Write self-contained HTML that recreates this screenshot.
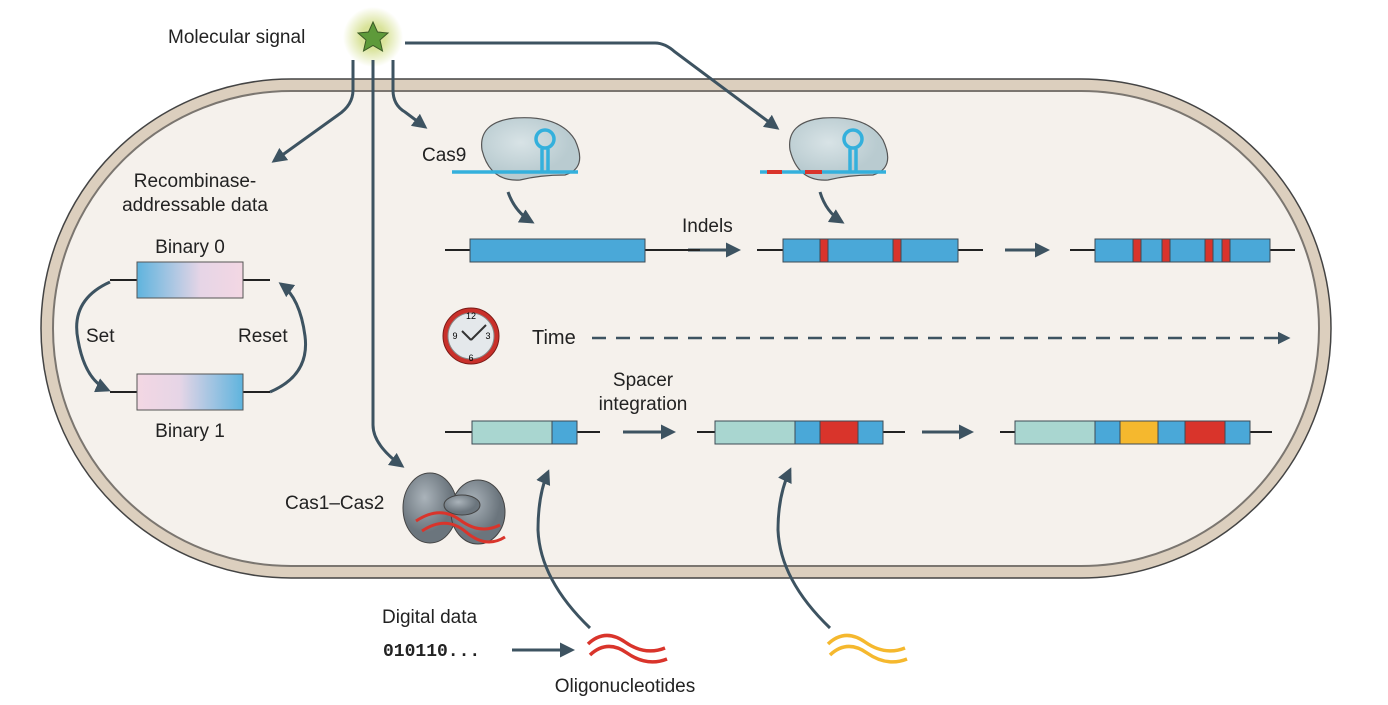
<!DOCTYPE html>
<html><head><meta charset="utf-8"><style>
html,body{margin:0;padding:0;background:#fff;}
svg{display:block;font-family:"Liberation Sans",sans-serif;}
</style></head><body>
<svg width="1388" height="705" viewBox="0 0 1388 705">
<defs>
<marker id="ah" viewBox="0 0 10 10" refX="8" refY="5" markerWidth="5" markerHeight="5" orient="auto-start-reverse"><path d="M0,0 L10,5 L0,10 z" fill="#3d5361"/></marker>
<radialGradient id="glow"><stop offset="0.4" stop-color="#d9e39a"/><stop offset="1" stop-color="#d9e39a" stop-opacity="0"/></radialGradient>
<linearGradient id="b0" x1="0" x2="1"><stop offset="0" stop-color="#5fb4de"/><stop offset="0.6" stop-color="#e6d5e6"/><stop offset="1" stop-color="#f3d7e3"/></linearGradient>
<linearGradient id="b1" x1="0" x2="1"><stop offset="0" stop-color="#f3d7e3"/><stop offset="0.4" stop-color="#e6d5e6"/><stop offset="1" stop-color="#5fb4de"/></linearGradient>
<radialGradient id="cas" cx="0.4" cy="0.4"><stop offset="0" stop-color="#d8e3e6"/><stop offset="1" stop-color="#b9cbd0"/></radialGradient>
<radialGradient id="gr" cx="0.4" cy="0.35"><stop offset="0" stop-color="#aab3ba"/><stop offset="1" stop-color="#6b757d"/></radialGradient>
</defs>
<rect x="41" y="79" width="1290" height="499" rx="250" fill="#dccfbe" stroke="#444" stroke-width="1.5"/>
<rect x="53" y="91" width="1266" height="475" rx="238" fill="#f5f1ec" stroke="#7b7670" stroke-width="2"/>
<circle cx="373" cy="37" r="30" fill="url(#glow)"/>
<polygon points="373,22 377.5,32 388,33 380,40 382.5,51 373,45.5 363.5,51 366,40 358,33 368.5,32" fill="#5e9a3a" stroke="#3b5a25" stroke-width="1"/>
<text x="168" y="43" font-size="19" fill="#222">Molecular signal</text>
<g stroke="#3d5361" stroke-width="3" fill="none">
<path d="M353,60 V90 Q353,105 338,115 L274,161" marker-end="url(#ah)"/>
<path d="M373,60 V425 Q373,445 402,466" marker-end="url(#ah)"/>
<path d="M393,60 V90 Q393,105 405,112 L425,127" marker-end="url(#ah)"/>
<path d="M405,43 H655 Q665,43 675,52 L777,128" marker-end="url(#ah)"/>
<path d="M508,192 Q515,212 532,222" marker-end="url(#ah)"/>
<path d="M820,192 Q826,212 842,222" marker-end="url(#ah)"/>
<path d="M688,250 H738" marker-end="url(#ah)"/>
<path d="M1005,250 H1047" marker-end="url(#ah)"/>
<path d="M623,432 H673" marker-end="url(#ah)"/>
<path d="M922,432 H971" marker-end="url(#ah)"/>
<path d="M592,338 H1288" stroke-dasharray="14,10" stroke-width="2.5" marker-end="url(#ah)"/>
<path d="M110,282 Q70,300 78,340 Q85,380 108,390" marker-end="url(#ah)"/>
<path d="M270,392 Q310,375 305,336 Q300,298 281,284" marker-end="url(#ah)"/>
<path d="M590,628 Q540,580 538,530 Q538,495 548,472" marker-end="url(#ah)"/>
<path d="M830,628 Q780,580 778,530 Q778,495 790,470" marker-end="url(#ah)"/>
<path d="M512,650 H572" marker-end="url(#ah)"/>
</g>
<g>
<path d="M482,150 Q478,122 515,118 Q560,115 575,140 Q588,168 565,175 Q540,175 520,180 Q490,182 482,150z" fill="url(#cas)" stroke="#555" stroke-width="1.2"/>
<path d="M452,172 H578 M542,172 V149 M548,172 V149" stroke="#34b0dc" stroke-width="3.5" fill="none"/>
<circle cx="545" cy="139" r="9" fill="none" stroke="#34b0dc" stroke-width="3.5"/>
<text x="422" y="161" font-size="19" fill="#222">Cas9</text>
<path d="M790,150 Q786,122 823,118 Q868,115 883,140 Q896,168 873,175 Q848,175 828,180 Q798,182 790,150z" fill="url(#cas)" stroke="#555" stroke-width="1.2"/>
<path d="M760,172 H886 M850,172 V149 M856,172 V149" stroke="#34b0dc" stroke-width="3.5" fill="none"/>
<circle cx="853" cy="139" r="9" fill="none" stroke="#34b0dc" stroke-width="3.5"/>
<path d="M767,172 H782 M805,172 H822" stroke="#d9342b" stroke-width="4"/>
</g>
<g stroke="#222" stroke-width="2">
<path d="M445,250 H700 M757,250 H983 M1070,250 H1295"/>
</g>
<g stroke="#3d4a55" stroke-width="1">
<rect x="470" y="239" width="175" height="23" fill="#4aa8d8"/>
<rect x="783" y="239" width="175" height="23" fill="#4aa8d8"/>
<rect x="820" y="239" width="8" height="23" fill="#d9342b"/>
<rect x="893" y="239" width="8" height="23" fill="#d9342b"/>
<rect x="1095" y="239" width="175" height="23" fill="#4aa8d8"/>
<rect x="1133" y="239" width="8" height="23" fill="#d9342b"/>
<rect x="1162" y="239" width="8" height="23" fill="#d9342b"/>
<rect x="1205" y="239" width="8" height="23" fill="#d9342b"/>
<rect x="1222" y="239" width="8" height="23" fill="#d9342b"/>
</g>
<text x="682" y="232" font-size="19" fill="#222">Indels</text>
<circle cx="471" cy="336" r="28" fill="#c9302a" stroke="#7a1a16"/>
<circle cx="471" cy="336" r="23" fill="#e4e8eb" stroke="#888"/>
<text x="471" y="319" font-size="9" text-anchor="middle">12</text>
<text x="471" y="361" font-size="9" text-anchor="middle">6</text>
<text x="455" y="339" font-size="9" text-anchor="middle">9</text>
<text x="488" y="339" font-size="9" text-anchor="middle">3</text>
<path d="M471,340 L462,331 M471,340 L486,325" stroke="#333" stroke-width="2" fill="none"/>
<text x="532" y="344" font-size="20" fill="#222">Time</text>
<g stroke="#222" stroke-width="2"><path d="M445,432 H600 M697,432 H905 M1000,432 H1272"/></g>
<g stroke="#3d4a55" stroke-width="1">
<rect x="472" y="421" width="80" height="23" fill="#a9d6d0"/>
<rect x="552" y="421" width="25" height="23" fill="#4aa8d8"/>
<rect x="715" y="421" width="80" height="23" fill="#a9d6d0"/>
<rect x="795" y="421" width="25" height="23" fill="#4aa8d8"/>
<rect x="820" y="421" width="38" height="23" fill="#d9342b"/>
<rect x="858" y="421" width="25" height="23" fill="#4aa8d8"/>
<rect x="1015" y="421" width="80" height="23" fill="#a9d6d0"/>
<rect x="1095" y="421" width="25" height="23" fill="#4aa8d8"/>
<rect x="1120" y="421" width="38" height="23" fill="#f5b82e"/>
<rect x="1158" y="421" width="27" height="23" fill="#4aa8d8"/>
<rect x="1185" y="421" width="40" height="23" fill="#d9342b"/>
<rect x="1225" y="421" width="25" height="23" fill="#4aa8d8"/>
</g>
<text x="643" y="386" font-size="19" fill="#222" text-anchor="middle">Spacer</text>
<text x="643" y="410" font-size="19" fill="#222" text-anchor="middle">integration</text>
<text x="195" y="187" font-size="19" fill="#222" text-anchor="middle">Recombinase-</text>
<text x="195" y="211" font-size="19" fill="#222" text-anchor="middle">addressable data</text>
<text x="190" y="253" font-size="19" fill="#222" text-anchor="middle">Binary 0</text>
<text x="190" y="437" font-size="19" fill="#222" text-anchor="middle">Binary 1</text>
<path d="M110,280 H137 M243,280 H270 M110,392 H137 M243,392 H270" stroke="#222" stroke-width="2"/>
<rect x="137" y="262" width="106" height="36" fill="url(#b0)" stroke="#555"/>
<rect x="137" y="374" width="106" height="36" fill="url(#b1)" stroke="#555"/>
<text x="86" y="342" font-size="19" fill="#222">Set</text>
<text x="238" y="342" font-size="19" fill="#222">Reset</text>
<text x="285" y="509" font-size="19" fill="#222">Cas1–Cas2</text>
<ellipse cx="430" cy="508" rx="27" ry="35" fill="url(#gr)" stroke="#444"/>
<ellipse cx="478" cy="512" rx="27" ry="32" fill="url(#gr)" stroke="#444"/>
<ellipse cx="462" cy="505" rx="18" ry="10" fill="url(#gr)" stroke="#444"/>
<path d="M416,521 Q440,505 460,520 T500,525 M422,531 Q446,515 466,532 T505,537" stroke="#d9342b" stroke-width="3" fill="none"/>
<text x="382" y="623" font-size="19" fill="#222">Digital data</text>
<text x="383" y="656" font-size="18" font-weight="bold" font-family="Liberation Mono,monospace" fill="#222">010110...</text>
<path d="M588,644 Q605,628 625,642 T665,648 M590,655 Q607,639 627,653 T667,659" stroke="#d9342b" stroke-width="3.5" fill="none"/>
<path d="M828,644 Q845,628 865,642 T905,648 M830,655 Q847,639 867,653 T907,659" stroke="#f5b82e" stroke-width="3.5" fill="none"/>
<text x="625" y="692" font-size="19" fill="#222" text-anchor="middle">Oligonucleotides</text>
</svg>
</body></html>
